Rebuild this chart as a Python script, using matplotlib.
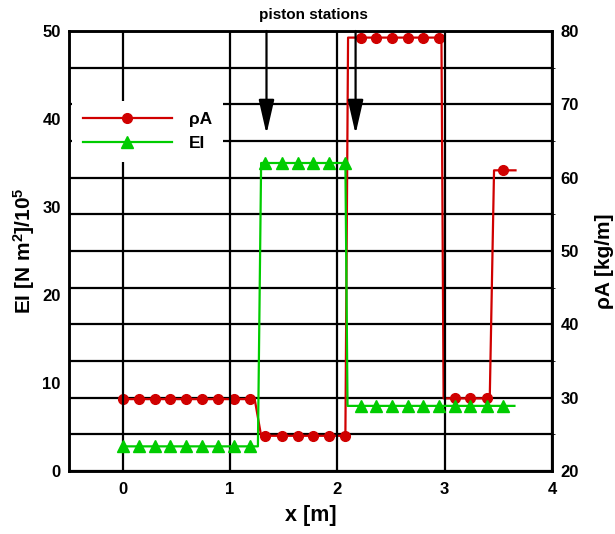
import matplotlib
matplotlib.use("Agg")
import matplotlib.pyplot as plt
from matplotlib.ticker import MultipleLocator
from matplotlib.legend_handler import HandlerTuple

plt.rcParams["font.family"] = ["Liberation Sans", "DejaVu Sans"]
plt.rcParams["font.weight"] = "bold"
plt.rcParams["mathtext.fontset"] = "custom"
plt.rcParams["mathtext.rm"] = "Liberation Sans:bold"
plt.rcParams["mathtext.it"] = "Liberation Sans:bold"
plt.rcParams["mathtext.bf"] = "Liberation Sans:bold"

RED = "#d00000"
GREEN = "#00cc00"

# stations along the beam [m]
station_x = [0.00, 0.15, 0.30, 0.44, 0.59, 0.74, 0.89, 1.04, 1.19,
             1.33, 1.48, 1.63, 1.77, 1.92, 2.07,
             2.22, 2.36, 2.51, 2.66, 2.80, 2.95,
             3.10, 3.24, 3.39, 3.54]

# rho*A at the stations [kg/m]
rho_x = station_x
rho_vals = [29.8, 29.8, 29.8, 29.8, 29.8, 29.8, 29.8, 29.8, 29.8,
            24.8, 24.8, 24.8, 24.8, 24.8, 24.8,
            79.1, 79.1, 79.1, 79.1, 79.1, 79.1,
            29.9, 29.9, 29.9,
            61.0]
# rho*A polyline (stations plus the jumps between segments)
rho_line_x = [0.00, 1.19, 1.23, 1.29, 1.33, 2.07, 2.075, 2.10, 2.22, 2.95,
              2.97, 2.99, 3.10, 3.39, 3.42, 3.46, 3.54, 3.66]
rho_line_y = [29.8, 29.8, 29.8, 24.8, 24.8, 24.8, 24.8, 79.1, 79.1, 79.1,
              79.1, 29.9, 29.9, 29.9, 29.9, 61.0, 61.0, 61.0]

# EI at the stations [N m^2 / 1e5]
ei_x = station_x
ei_vals = [2.8, 2.8, 2.8, 2.8, 2.8, 2.8, 2.8, 2.8, 2.8,
           35.0, 35.0, 35.0, 35.0, 35.0, 35.0,
           7.4, 7.4, 7.4, 7.4, 7.4, 7.4, 7.4, 7.4, 7.4, 7.4]
ei_line_x = [0.00, 1.19, 1.26, 1.29, 1.33, 2.07, 2.075, 2.095, 2.22, 3.54, 3.65]
ei_line_y = [2.8, 2.8, 2.8, 35.0, 35.0, 35.0, 35.0, 7.4, 7.4, 7.4, 7.4]

# piston stations (arrows from the top)
piston_x = [1.34, 2.17]
arrow_tip = 38.3

fig = plt.figure(figsize=(6.15, 5.34), dpi=100)
ax = fig.add_axes([69 / 615, 1 - 471 / 534, 483 / 615, 440 / 534])
ax2 = ax.twinx()
ax.set_zorder(ax2.get_zorder() + 1)
ax.patch.set_visible(False)

# rho*A on the right axis
ax2.set_ylim(20, 80)
ax2.yaxis.set_major_locator(MultipleLocator(10))
ax2.yaxis.set_minor_locator(MultipleLocator(5))
ax2.grid(axis="y", which="both", color="black", lw=1.6)
rho_line, = ax2.plot(rho_line_x, rho_line_y, color=RED, lw=1.6, zorder=3)
rho_pts, = ax2.plot(rho_x, rho_vals, ls="none", marker="o", ms=7,
                    color=RED, zorder=4)

# EI on the left axis
ax.set_xlim(-0.5, 4)
ax.set_ylim(0, 50)
ax.xaxis.set_major_locator(MultipleLocator(1))
ax.yaxis.set_major_locator(MultipleLocator(10))
ax.grid(axis="x", color="black", lw=1.6)
ei_line, = ax.plot(ei_line_x, ei_line_y, color=GREEN, lw=1.6, zorder=3)
ei_pts, = ax.plot(ei_x, ei_vals, ls="none", marker="^", ms=8,
                  color=GREEN, zorder=4)

for px in piston_x:
    ax.annotate("", xy=(px, arrow_tip), xytext=(px, 50),
                arrowprops=dict(arrowstyle="-|>,head_length=2.1,head_width=0.48",
                                color="black", lw=1.6, shrinkA=0, shrinkB=0,
                                mutation_scale=10), zorder=2)

for a in (ax, ax2):
    for s in a.spines.values():
        s.set_linewidth(1.8)
ax.tick_params(axis="both", length=0, labelsize=12)
ax.tick_params(axis="x", pad=8)
ax.tick_params(axis="y", pad=6)
ax2.tick_params(axis="y", length=0, labelsize=12, pad=6)

ax.set_xlabel("x [m]", fontsize=15.5, fontweight="bold", labelpad=6)
ax.set_ylabel(r"EI [N m$^2$]/10$^5$", fontsize=15, fontweight="bold",
              ha="center", va="center")
ax.yaxis.set_label_coords((24 - 69) / 483, 0.5)
ax2.set_ylabel("ρA [kg/m]", fontsize=15, fontweight="bold", rotation=90,
               ha="center", va="center")
ax2.yaxis.set_label_coords((605 - 69) / 483, (471 - 261) / 440)

fig.text(313 / 615, 1 - 15 / 534, "piston stations", ha="center", va="center",
         fontsize=11, fontweight="bold")

leg = ax.legend([(rho_line, rho_pts), (ei_line, ei_pts)], ["ρA", "EI"],
                handler_map={tuple: HandlerTuple(ndivide=1)},
                loc="upper left", bbox_to_anchor=(3 / 483, (471 - 101) / 440),
                borderaxespad=0, borderpad=0.64, handlelength=5.1,
                handletextpad=1.0, labelspacing=0.47, fontsize=12.5,
                frameon=True, fancybox=False, framealpha=1,
                facecolor="white", edgecolor="none")
leg.set_zorder(10)

fig.savefig("out.png", dpi=100)
